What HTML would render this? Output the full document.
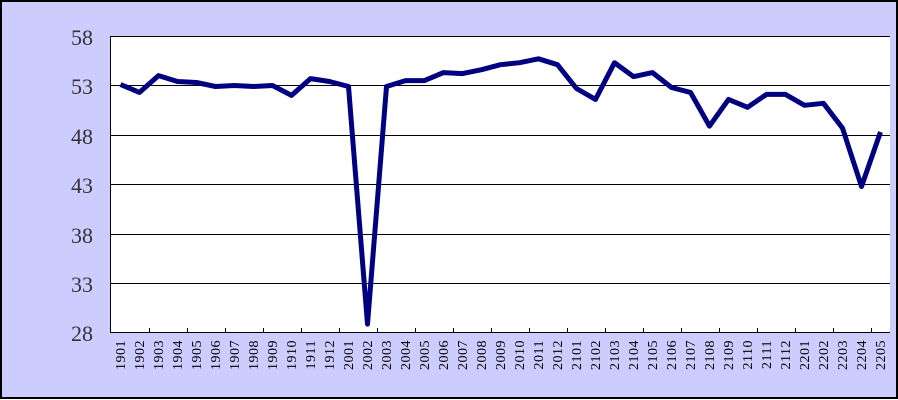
<!DOCTYPE html>
<html><head><meta charset="utf-8"><style>
html,body{margin:0;padding:0;background:#fff}
</style></head><body>
<svg width="898" height="400" xmlns="http://www.w3.org/2000/svg" style="display:block">
<rect x="1" y="1" width="896" height="397" fill="#CCCCFF" stroke="#000" stroke-width="2"/>
<rect x="111" y="36" width="779" height="297" fill="#fff"/>
<g stroke="#000" stroke-width="1">
<line x1="111" y1="36.5" x2="890" y2="36.5"/>
<line x1="111" y1="85.5" x2="890" y2="85.5"/>
<line x1="111" y1="135.5" x2="890" y2="135.5"/>
<line x1="111" y1="184.5" x2="890" y2="184.5"/>
<line x1="111" y1="234.5" x2="890" y2="234.5"/>
<line x1="111" y1="283.5" x2="890" y2="283.5"/>
<line x1="111" y1="332.5" x2="890" y2="332.5"/>
<line x1="110.5" y1="36" x2="110.5" y2="333"/>
<path d="M149.5 333v-5M187.5 333v-5M225.5 333v-5M263.5 333v-5M301.5 333v-5M339.5 333v-5M377.5 333v-5M415.5 333v-5M453.5 333v-5M491.5 333v-5M529.5 333v-5M567.5 333v-5M605.5 333v-5M643.5 333v-5M681.5 333v-5M719.5 333v-5M757.5 333v-5M795.5 333v-5M833.5 333v-5M871.5 333v-5"/>
</g>
<g font-family="Liberation Serif, serif" font-size="22" fill="#333" text-anchor="end">
<text x="93" y="45">58</text><text x="93" y="94">53</text><text x="93" y="144">48</text>
<text x="93" y="193">43</text><text x="93" y="243">38</text><text x="93" y="292">33</text><text x="93" y="341">28</text>
</g>
<g font-family="Liberation Serif, serif" font-size="14" fill="#000" text-anchor="end" letter-spacing="0.5">
<text transform="translate(125,340) rotate(-90)">1901</text>
<text transform="translate(144,340) rotate(-90)">1902</text>
<text transform="translate(163,340) rotate(-90)">1903</text>
<text transform="translate(182,340) rotate(-90)">1904</text>
<text transform="translate(201,340) rotate(-90)">1905</text>
<text transform="translate(220,340) rotate(-90)">1906</text>
<text transform="translate(239,340) rotate(-90)">1907</text>
<text transform="translate(258,340) rotate(-90)">1908</text>
<text transform="translate(277,340) rotate(-90)">1909</text>
<text transform="translate(296,340) rotate(-90)">1910</text>
<text transform="translate(315,340) rotate(-90)">1911</text>
<text transform="translate(334,340) rotate(-90)">1912</text>
<text transform="translate(353,340) rotate(-90)">2001</text>
<text transform="translate(372,340) rotate(-90)">2002</text>
<text transform="translate(391,340) rotate(-90)">2003</text>
<text transform="translate(410,340) rotate(-90)">2004</text>
<text transform="translate(429,340) rotate(-90)">2005</text>
<text transform="translate(448,340) rotate(-90)">2006</text>
<text transform="translate(467,340) rotate(-90)">2007</text>
<text transform="translate(486,340) rotate(-90)">2008</text>
<text transform="translate(505,340) rotate(-90)">2009</text>
<text transform="translate(524,340) rotate(-90)">2010</text>
<text transform="translate(543,340) rotate(-90)">2011</text>
<text transform="translate(562,340) rotate(-90)">2012</text>
<text transform="translate(581,340) rotate(-90)">2101</text>
<text transform="translate(600,340) rotate(-90)">2102</text>
<text transform="translate(619,340) rotate(-90)">2103</text>
<text transform="translate(638,340) rotate(-90)">2104</text>
<text transform="translate(657,340) rotate(-90)">2105</text>
<text transform="translate(676,340) rotate(-90)">2106</text>
<text transform="translate(695,340) rotate(-90)">2107</text>
<text transform="translate(714,340) rotate(-90)">2108</text>
<text transform="translate(733,340) rotate(-90)">2109</text>
<text transform="translate(752,340) rotate(-90)">2110</text>
<text transform="translate(771,340) rotate(-90)">2111</text>
<text transform="translate(790,340) rotate(-90)">2112</text>
<text transform="translate(809,340) rotate(-90)">2201</text>
<text transform="translate(828,340) rotate(-90)">2202</text>
<text transform="translate(847,340) rotate(-90)">2203</text>
<text transform="translate(866,340) rotate(-90)">2204</text>
<text transform="translate(885,340) rotate(-90)">2205</text>
</g>
<polyline fill="none" stroke="#000080" stroke-width="5" stroke-linejoin="round" points="120.5,84.5 139.5,92.4 158.5,75.6 177.5,81.5 196.5,82.5 215.5,86.5 234.5,85.5 253.5,86.5 272.5,85.5 291.5,95.4 310.5,78.6 329.5,81.5 348.5,86.5 367.5,324.1 386.5,86.5 405.5,80.6 424.5,80.6 443.5,72.6 462.5,73.6 481.5,69.7 500.5,64.7 519.5,62.7 538.5,58.8 557.5,64.7 576.5,88.5 595.5,99.4 614.5,62.7 633.5,76.6 652.5,72.6 671.5,87.5 690.5,92.4 709.5,126.1 728.5,99.4 747.5,107.3 766.5,94.4 785.5,94.4 804.5,105.3 823.5,103.3 842.5,128.1 861.5,186.5 880.5,132"/>
</svg>
</body></html>
